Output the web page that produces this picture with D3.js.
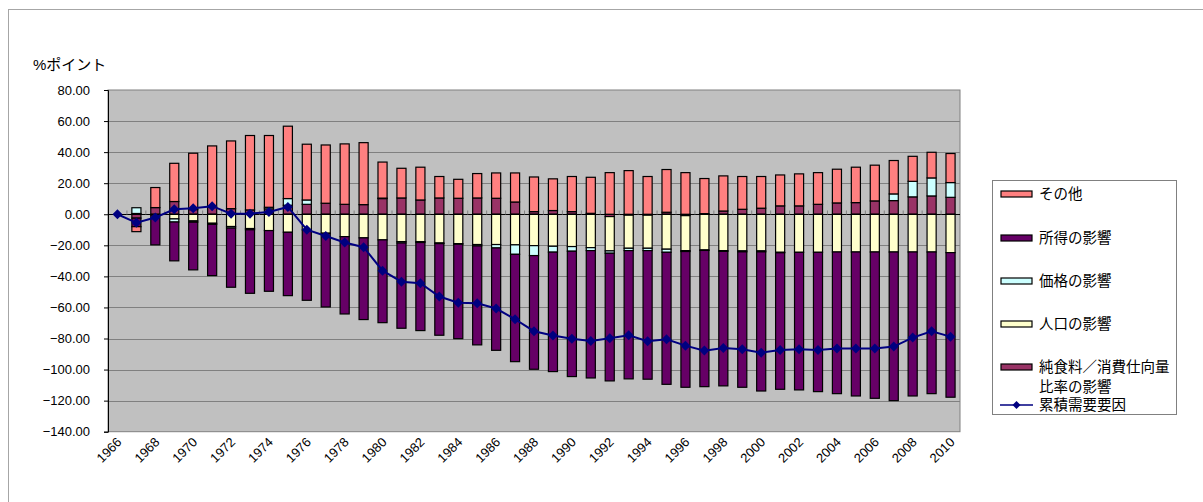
<!DOCTYPE html>
<html>
<head>
<meta charset="utf-8">
<script src="https://cdn.jsdelivr.net/npm/d3@7"></script>
<style>
  body { margin: 0; background: #fff; }
  svg { display: block; }
  text { font-family: "Liberation Sans", "Noto Sans CJK JP", sans-serif; fill: #000; }
</style>
</head>
<body>
<svg id="chart" width="1203" height="502"></svg>
<script>
// Years on the category axis
const years = [1966,1967,1968,1969,1970,1971,1972,1973,1974,1975,1976,1977,1978,1979,1980,
  1981,1982,1983,1984,1985,1986,1987,1988,1989,1990,1991,1992,1993,1994,1995,
  1996,1997,1998,1999,2000,2001,2002,2003,2004,2005,2006,2007,2008,2009,2010];

// 純食料／消費仕向量比率の影響
const ratioEffect = [0,-2.5,4.3,8.2,3.0,4.5,3.6,2.8,3.5,5.8,6.4,7.1,6.4,6.2,10.1,
  10.5,9.2,10.5,10.3,10.5,10.3,7.9,1.7,2.4,1.7,0.6,-1.5,-0.6,-0.6,1.3,
  -0.9,0.4,2.1,3.2,3.9,5.4,5.4,6.4,7.3,7.5,8.6,8.8,11.2,11.8,10.9];
// 人口の影響
const populationEffect = [0,0.5,-0.5,-3.0,-4.3,-5.8,-7.9,-9.2,-10.5,-11.6,-10.1,-12.2,-14.4,-15.2,-16.5,
  -17.6,-17.6,-18.5,-18.9,-19.5,-19.5,-19.7,-20.2,-20.6,-20.8,-21.5,-22.1,-21.3,-21.3,-22.5,
  -22.5,-23.0,-23.4,-23.6,-23.6,-24.5,-24.5,-24.5,-24.3,-24.3,-24.3,-24.3,-24.3,-24.3,-24.7];
// 価格の影響
const priceEffect = [0,3.7,0,-2.0,-0.8,-0.7,-1.0,-0.8,1.0,4.3,2.8,0,0,0,0.3,
  -0.9,-0.6,-0.4,-0.4,-0.9,-2.2,-6.1,-6.4,-3.8,-3.0,-1.9,-1.5,-1.5,-1.5,-2.0,
  -0.6,-0.3,-0.5,-0.6,-0.6,-0.3,0,0,0,0,0,4.3,10.0,11.6,9.5];
// 所得の影響
const incomeEffect = [0,-5.5,-19.2,-25.0,-30.7,-33.0,-38.1,-40.9,-39.1,-40.8,-45.3,-47.5,-49.8,-52.6,-53.3,
  -54.9,-56.7,-59.0,-60.8,-63.7,-65.9,-69.1,-73.2,-76.9,-80.7,-82.0,-82.2,-82.6,-82.8,-85.0,
  -87.4,-87.7,-86.6,-87.2,-89.6,-87.9,-88.6,-89.7,-91.2,-92.7,-94.2,-95.7,-92.7,-91.2,-93.1];
// その他
const otherEffect = [0,-3.2,12.9,24.6,36.3,39.5,43.6,47.9,46.2,46.6,35.9,37.5,38.9,39.9,23.2,
  19.1,21.1,13.8,12.2,15.7,16.3,18.7,22.3,20.4,22.6,23.2,26.8,28.1,24.3,27.5,
  26.8,22.6,22.6,21.1,20.4,19.9,20.6,20.4,21.7,22.8,23.0,21.5,16.1,16.5,18.7];
// 累積需要要因
const cumulativeDemand = [0,-5.5,-2.1,3.2,3.9,5.2,0.4,0.4,1.5,4.7,-9.9,-14.0,-18.2,-21.2,-36.3,
  -43.4,-44.4,-53.0,-56.9,-57.3,-60.7,-67.6,-75.3,-78.1,-80.1,-81.6,-79.8,-77.9,-81.8,-80.5,
  -84.6,-87.8,-86.1,-86.9,-89.1,-87.4,-86.9,-87.4,-86.5,-86.5,-86.5,-85.2,-79.4,-75.3,-78.8];

const yTicks = [80,60,40,20,0,-20,-40,-60,-80,-100,-120,-140];
const xLabelYears = years.filter((y, i) => i % 2 === 0);

// Stack order (bottom to top) and legend order (top to bottom)
const series = [
  { key: "ratio", name: ["純食料／消費仕向量", "比率の影響"], color: "#993366", values: ratioEffect },
  { key: "pop", name: ["人口の影響"], color: "#FFFFCC", values: populationEffect },
  { key: "price", name: ["価格の影響"], color: "#CCFFFF", values: priceEffect },
  { key: "income", name: ["所得の影響"], color: "#660066", values: incomeEffect },
  { key: "other", name: ["その他"], color: "#FF8080", values: otherEffect }
];

const rows = years.map((yr, i) => {
  const r = { year: yr };
  series.forEach(s => r[s.key] = s.values[i]);
  return r;
});

const svg = d3.select("#chart");
const plot = { left: 108, right: 960, top: 90, bottom: 431.7 };

// chart area frame
svg.append("rect").attr("x", 8.5).attr("y", 9.5).attr("width", 1210).attr("height", 500)
  .attr("fill", "#fff").attr("stroke", "#a6a6a6");

const x = d3.scaleBand().domain(years).range([plot.left, plot.right])
  .paddingInner(0.52).paddingOuter(0.26);
const y = d3.scaleLinear().domain([-140, 80]).range([plot.bottom, plot.top]);

// plot area
svg.append("rect").attr("x", plot.left).attr("y", plot.top)
  .attr("width", plot.right - plot.left).attr("height", plot.bottom - plot.top)
  .attr("fill", "#C0C0C0").attr("stroke", "#808080").attr("stroke-width", 1);

// gridlines
svg.append("g").selectAll("line").data(yTicks.filter(v => v !== 80 && v !== -140)).join("line")
  .attr("x1", plot.left).attr("x2", plot.right)
  .attr("y1", d => Math.round(y(d)) + 0.5).attr("y2", d => Math.round(y(d)) + 0.5)
  .attr("stroke", "#808080").attr("stroke-width", 1);

// value axis
const yAxis = d3.axisLeft(y).tickValues(yTicks).tickSize(4).tickFormat(d3.format(".2f"));
const gy = svg.append("g").attr("transform", `translate(${plot.left},0)`).call(yAxis);
gy.select(".domain").attr("stroke", "#000");
gy.selectAll(".tick line").attr("stroke", "#000");
gy.selectAll(".tick text").attr("x", -18).attr("font-size", 13)
  .style("font-family", "'Liberation Sans', Arial, sans-serif");

// stacked bars
const stack = d3.stack().keys(series.map(s => s.key)).offset(d3.stackOffsetDiverging);
const stacked = stack(rows);

svg.append("g").selectAll("g").data(stacked).join("g")
  .attr("fill", (d, i) => series[i].color)
  .selectAll("rect").data(d => d.filter(p => p[1] !== p[0])).join("rect")
  .attr("x", d => x(d.data.year))
  .attr("width", x.bandwidth())
  .attr("y", d => y(Math.max(d[0], d[1])))
  .attr("height", d => Math.abs(y(d[0]) - y(d[1])))
  .attr("stroke", "#000").attr("stroke-width", 1.2);

// category axis through zero
const zeroY = Math.round(y(0)) + 0.5;
svg.append("line").attr("x1", plot.left).attr("x2", plot.right)
  .attr("y1", zeroY).attr("y2", zeroY).attr("stroke", "#000").attr("stroke-width", 1);
svg.append("g").selectAll("line").data(years.slice(1)).join("line")
  .attr("x1", d => x(d) - x.step() * x.paddingInner() / 2)
  .attr("x2", d => x(d) - x.step() * x.paddingInner() / 2)
  .attr("y1", zeroY - 4).attr("y2", zeroY)
  .attr("stroke", "#808080");

// year labels
svg.append("g").selectAll("text").data(xLabelYears).join("text")
  .attr("transform", d => `translate(${x(d) + x.bandwidth() / 2 + 5},${443}) rotate(-45)`)
  .attr("text-anchor", "end").attr("font-size", 13)
  .text(d => d);

// cumulative demand line
const cx = d => x(d) + x.bandwidth() / 2;
const line = d3.line().x((d, i) => cx(years[i])).y(d => y(d));
svg.append("path").datum(cumulativeDemand).attr("d", line)
  .attr("fill", "none").attr("stroke", "#000080").attr("stroke-width", 2);
const diamond = "M0,-5L5,0L0,5L-5,0Z";
svg.append("g").selectAll("path").data(cumulativeDemand).join("path")
  .attr("d", diamond)
  .attr("transform", (d, i) => `translate(${cx(years[i])},${y(d)})`)
  .attr("fill", "#000080");

// unit label
svg.append("text").attr("x", 33).attr("y", 70).attr("font-size", 15).text("%ポイント");

// legend
const lg = svg.append("g");
lg.append("rect").attr("x", 992.5).attr("y", 180.5).attr("width", 184).attr("height", 234)
  .attr("fill", "#fff").attr("stroke", "#808080");
const legendItems = series.slice().reverse();
const legendY = [194, 238, 281, 324, 367];
legendItems.forEach((s, i) => {
  const yy = legendY[i];
  lg.append("rect").attr("x", 1001).attr("y", yy - 3).attr("width", 31).attr("height", 6)
    .attr("fill", s.color).attr("stroke", "#000").attr("stroke-width", 1.2);
  s.name.forEach((t, j) => {
    lg.append("text").attr("x", 1039).attr("y", yy + 5 + j * 20).attr("font-size", 14.5).text(t);
  });
});
const ly = 405;
lg.append("line").attr("x1", 1000).attr("x2", 1033).attr("y1", ly).attr("y2", ly)
  .attr("stroke", "#000080").attr("stroke-width", 1.5);
lg.append("path").attr("d", "M0,-4L4,0L0,4L-4,0Z").attr("transform", `translate(1016.5,${ly})`)
  .attr("fill", "#000080");
lg.append("text").attr("x", 1039).attr("y", ly + 5).attr("font-size", 14.5).text("累積需要要因");
</script>
</body>
</html>
